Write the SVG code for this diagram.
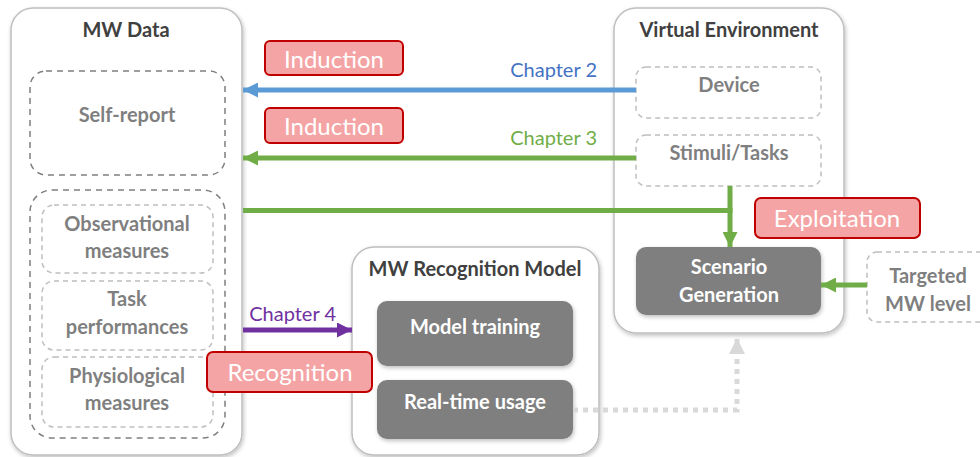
<svg xmlns="http://www.w3.org/2000/svg" width="980" height="457" viewBox="0 0 980 457">
<defs>
<filter id="sh" x="-10%" y="-10%" width="120%" height="120%">
<feGaussianBlur in="SourceAlpha" stdDeviation="2"/>
<feOffset dx="1" dy="2" result="o"/>
<feComponentTransfer><feFuncA type="linear" slope="0.25"/></feComponentTransfer>
<feMerge><feMergeNode/><feMergeNode in="SourceGraphic"/></feMerge>
</filter>
<marker id="ab" viewBox="0 0 10 10" refX="10" refY="5" markerWidth="3.2" markerHeight="3" orient="auto" markerUnits="strokeWidth"><path d="M0,0L10,5L0,10z" fill="#5b9bd5"/></marker>
<marker id="ag" viewBox="0 0 10 10" refX="10" refY="5" markerWidth="3.2" markerHeight="3" orient="auto" markerUnits="strokeWidth"><path d="M0,0L10,5L0,10z" fill="#70ad47"/></marker>
<marker id="ap" viewBox="0 0 10 10" refX="10" refY="5" markerWidth="3.2" markerHeight="3" orient="auto" markerUnits="strokeWidth"><path d="M0,0L10,5L0,10z" fill="#7030a0"/></marker>
<marker id="ad" viewBox="0 0 10 10" refX="10" refY="5" markerWidth="3.2" markerHeight="3.2" orient="auto" markerUnits="strokeWidth"><path d="M0,0L10,5L0,10z" fill="#d9d9d9"/></marker>
</defs>
<style>
text{font-family:Lato,"Open Sans","Liberation Sans",sans-serif}
.cont{fill:#fff;stroke:#bfbfbf;stroke-width:1.5}
.title{font-weight:bold;font-size:20px;fill:#404040;text-anchor:middle}
.dash{fill:#fff;stroke:#7f7f7f;stroke-width:1.5;stroke-dasharray:6 5}
.ldash{fill:#fff;stroke:#bfbfbf;stroke-width:1.5;stroke-dasharray:5 4}
.gl{font-weight:bold;font-size:20px;fill:#7f7f7f;text-anchor:middle}
.dark{fill:#7f7f7f}
.wl{font-weight:bold;font-size:20px;fill:#fff;text-anchor:middle}
.tag{fill:#f4a4a4;stroke:#c00000;stroke-width:2}
.tagt{font-size:24px;fill:#fff;text-anchor:middle}
.ch{font-size:20px;text-anchor:end}
</style>

<g id="mw-data">
<rect class="cont" x="11" y="8" width="231" height="447" rx="22" filter="url(#sh)"/>
<text class="title" x="126" y="37">MW Data</text>
</g>
<g id="self-report">
<rect class="dash" x="30" y="71" width="195" height="104" rx="16"/>
<text class="gl" x="127" y="122">Self-report</text>
</g>
<g id="measures-group">
<rect class="dash" x="30" y="190" width="195" height="248" rx="22"/>
</g>
<g id="observational">
<rect class="ldash" x="42" y="205" width="171" height="68" rx="12"/>
<text class="gl" x="127" y="231">Observational</text>
<text class="gl" x="127" y="258">measures</text>
</g>
<g id="task">
<rect class="ldash" x="42" y="281" width="171" height="69" rx="12"/>
<text class="gl" x="127" y="306">Task</text>
<text class="gl" x="127" y="334">performances</text>
</g>
<g id="physiological">
<rect class="ldash" x="42" y="357" width="171" height="70" rx="12"/>
<text class="gl" x="127" y="383">Physiological</text>
<text class="gl" x="127" y="410">measures</text>
</g>

<g id="virtual-env">
<rect class="cont" x="614" y="8" width="230" height="325" rx="22" filter="url(#sh)"/>
<text class="title" x="729" y="37">Virtual Environment</text>
</g>
<g id="device">
<rect class="ldash" x="636" y="67" width="185" height="51" rx="10"/>
<text class="gl" x="729" y="92">Device</text>
</g>
<g id="stimuli">
<rect class="ldash" x="636" y="135" width="185" height="51" rx="10"/>
<text class="gl" x="729" y="160">Stimuli/Tasks</text>
</g>
<g id="scenario">
<rect class="dark" x="636" y="247" width="185" height="68" rx="10" filter="url(#sh)"/>
<text class="wl" x="729" y="274">Scenario</text>
<text class="wl" x="729" y="302">Generation</text>
</g>
<g id="targeted">
<rect class="ldash" x="867" y="252" width="130" height="70" rx="10"/>
<text class="gl" x="928" y="283">Targeted</text>
<text class="gl" x="928" y="311">MW level</text>
</g>

<g id="recognition-model">
<rect class="cont" x="352" y="247" width="247" height="208" rx="22" filter="url(#sh)"/>
<text class="title" x="475" y="276">MW Recognition Model</text>
</g>
<g id="model-training">
<rect class="dark" x="377" y="301" width="196" height="65" rx="10" filter="url(#sh)"/>
<text class="wl" x="475" y="334">Model training</text>
</g>
<g id="realtime">
<rect class="dark" x="377" y="380" width="196" height="59" rx="10" filter="url(#sh)"/>
<text class="wl" x="475" y="409">Real-time usage</text>
</g>

<g id="connectors" fill="none" stroke-width="5">
<line x1="636" y1="90" x2="243" y2="90" stroke="#5b9bd5" marker-end="url(#ab)"/>
<line x1="636" y1="158" x2="243" y2="158" stroke="#70ad47" marker-end="url(#ag)"/>
<line x1="243" y1="210.5" x2="732.5" y2="210.5" stroke="#70ad47"/>
<line x1="730" y1="186" x2="730" y2="247" stroke="#70ad47" marker-end="url(#ag)"/>
<line x1="867" y1="285" x2="821" y2="285" stroke="#70ad47" marker-end="url(#ag)"/>
<line x1="243" y1="330" x2="352" y2="330" stroke="#7030a0" marker-end="url(#ap)"/>
<path d="M573,410H737V338" stroke="#d9d9d9" stroke-dasharray="5 5" marker-end="url(#ad)"/>
<text class="ch" x="597" y="77" fill="#4472c4" stroke="none">Chapter 2</text>
<text class="ch" x="597" y="145" fill="#70ad47" stroke="none">Chapter 3</text>
<text class="ch" x="336" y="321" fill="#7030a0" stroke="none">Chapter 4</text>
</g>

<g id="induction-1">
<rect class="tag" x="265" y="41" width="138" height="34" rx="5"/>
<text class="tagt" x="334" y="68">Induction</text>
</g>
<g id="induction-2">
<rect class="tag" x="265" y="108" width="138" height="35" rx="5"/>
<text class="tagt" x="334" y="135">Induction</text>
</g>
<g id="exploitation">
<rect class="tag" x="755" y="198" width="165" height="40" rx="6"/>
<text class="tagt" x="837" y="227">Exploitation</text>
</g>
<g id="recognition">
<rect class="tag" x="207" y="352" width="165" height="40" rx="6"/>
<text class="tagt" x="290" y="381">Recognition</text>
</g>
</svg>
